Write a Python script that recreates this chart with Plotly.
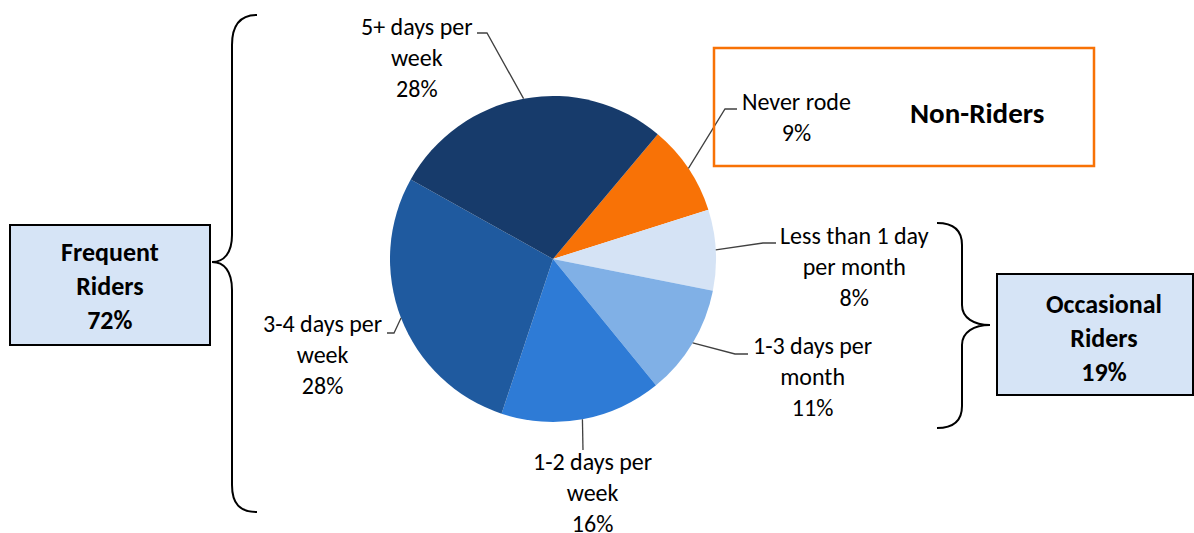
import math
import plotly.graph_objects as go

# ---------------- data ----------------
categories = ["Never rode", "Less than 1 day per month", "1-3 days per month",
              "1-2 days per week", "3-4 days per week", "5+ days per week"]
label_text = ["Never rode", "Less than 1 day<br>per month", "1-3 days per<br>month",
              "1-2 days per<br>week", "3-4 days per<br>week", "5+ days per<br>week"]
shares = [9, 8, 11, 16, 28, 28]
colors = ["#F87206", "#D5E3F5", "#80B0E6", "#2E7BD6", "#1F5A9F", "#173B6B"]

group_names = ["Frequent<br>Riders", "Occasional<br>Riders", "Non-Riders"]
group_members = [[3, 4, 5], [1, 2], [0]]

# ---------------- layout constants (pixels) ----------------
W, H = 1194, 533
CX, CY, R = 553, 259, 163
ROT = 40
FONT = "Carlito, Lato, sans-serif"

# per-slice label placement: (elbow_x, elbow_y, end_x, end_y, text_x, text_y)
label_pos = [
    (725, 109, 737, 109, 796, 117),
    (763, 243, 776, 243, 854, 266),
    (735, 354, 748, 354, 812, 376),
    (583, 450, 583, 450, 592, 492),
    (394, 333, 387, 333, 322, 354),
    (487, 33, 477, 33, 417, 58),
]


def px(x):
    return x / W


def py(y):
    return 1 - y / H


fig = go.Figure()
fig.add_trace(go.Pie(
    values=shares, labels=categories, sort=False, direction="clockwise",
    rotation=ROT, marker=dict(colors=colors, line=dict(width=0)),
    textinfo="none", hoverinfo="label+percent", showlegend=False,
    domain=dict(x=[px(CX - R), px(CX + R)], y=[py(CY + R), py(CY - R)]),
))

shapes = []
annotations = []

# leader lines + labels, start point from slice mid-angle
total = sum(shares)
cum = 0
for i, v in enumerate(shares):
    mid = ROT + 360 * (cum + v / 2) / total
    cum += v
    a = math.radians(mid)
    sx = CX + R * math.sin(a)
    sy = CY - R * math.cos(a)
    ex, ey, tx2, ty2, tx, ty = label_pos[i]
    path = f"M {px(sx)},{py(sy)} L {px(ex)},{py(ey)} L {px(tx2)},{py(ty2)}"
    shapes.append(dict(type="path", xref="paper", yref="paper", path=path,
                       line=dict(color="#404040", width=1.3)))
    annotations.append(dict(
        xref="paper", yref="paper", x=px(tx), y=py(ty), xanchor="center",
        yanchor="middle", align="center", showarrow=False,
        text=f"{label_text[i]}<br>{v}%",
        font=dict(family=FONT, size=24, color="#000000")))

# group boxes
group_vals = [sum(shares[j] for j in m) for m in group_members]
boxes = [(10, 225, 210, 345), (997, 274, 1193, 395)]
box_text_pos = [(110, 286), (1104, 338)]
for k in range(2):
    x0, y0, x1, y1 = boxes[k]
    shapes.append(dict(type="rect", xref="paper", yref="paper",
                       x0=px(x0), x1=px(x1), y0=py(y1), y1=py(y0),
                       fillcolor="#D6E4F6", line=dict(color="#000000", width=2)))
    annotations.append(dict(
        xref="paper", yref="paper", x=px(box_text_pos[k][0]), y=py(box_text_pos[k][1]),
        xanchor="center", yanchor="middle", align="center", showarrow=False,
        text=f"<b>{group_names[k]}<br>{group_vals[k]}%</b>",
        font=dict(family=FONT, size=26, color="#000000")))

# non-riders box
shapes.append(dict(type="rect", xref="paper", yref="paper",
                   x0=px(714), x1=px(1094), y0=py(166), y1=py(48),
                   fillcolor="rgba(0,0,0,0)", line=dict(color="#F87206", width=2.5)))
annotations.append(dict(
    xref="paper", yref="paper", x=px(977), y=py(113), xanchor="center",
    yanchor="middle", showarrow=False, text=f"<b>{group_names[2]}</b>",
    font=dict(family=FONT, size=29, color="#000000")))


def brace(cmds):
    out = []
    for c in cmds:
        if isinstance(c, str):
            out.append(c)
        else:
            out.append(f"{px(c[0])},{py(c[1])}")
    return " ".join(out)


left_brace = brace(["M", (257, 15), "C", (240, 15), (232, 25), (232, 45),
                    "L", (232, 235), "C", (232, 253), (224, 262), (212, 262),
                    "C", (224, 262), (232, 271), (232, 290),
                    "L", (232, 485), "C", (232, 504), (240, 512), (257, 512)])
right_brace = brace(["M", (937, 223), "C", (954, 223), (962, 231), (962, 245),
                     "L", (962, 305), "C", (962, 318), (974, 325), (990, 325),
                     "C", (974, 325), (962, 332), (962, 345),
                     "L", (962, 406), "C", (962, 420), (954, 428), (937, 428)])
for p in (left_brace, right_brace):
    shapes.append(dict(type="path", xref="paper", yref="paper", path=p,
                       line=dict(color="#000000", width=2)))

fig.update_layout(width=W, height=H, margin=dict(l=0, r=0, t=0, b=0),
                  paper_bgcolor="white", plot_bgcolor="white", showlegend=False,
                  shapes=shapes, annotations=annotations)
fig.write_html("out.html", config={"displayModeBar": False},
               post_script="document.body.style.margin='0';document.body.style.overflow='hidden';")
